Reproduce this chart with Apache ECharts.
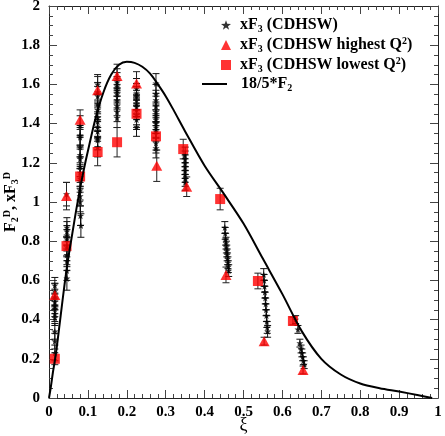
<!DOCTYPE html>
<html>
<head>
<meta charset="utf-8">
<script src="https://cdn.jsdelivr.net/npm/echarts@6/dist/echarts.min.js"></script>
<style>
  html, body { margin: 0; padding: 0; background: #fff; }
  #chart { width: 445px; height: 436px; }
</style>
</head>
<body>
<div id="chart"></div>
<script>
// [xi, value, error]
const cdhswStars = [
  [0.015, 0.575, 0.04], [0.015, 0.545, 0.04], [0.015, 0.515, 0.04], [0.015, 0.49, 0.04],
  [0.015, 0.47, 0.04], [0.015, 0.455, 0.04], [0.015, 0.43, 0.04], [0.015, 0.41, 0.04],
  [0.015, 0.34, 0.04], [0.015, 0.29, 0.04], [0.015, 0.23, 0.04],
  [0.045, 1.04, 0.06], [0.046, 0.87, 0.05], [0.046, 0.85, 0.05], [0.046, 0.83, 0.05],
  [0.046, 0.81, 0.05], [0.046, 0.77, 0.05], [0.046, 0.73, 0.05], [0.046, 0.70, 0.05],
  [0.046, 0.65, 0.05], [0.046, 0.61, 0.06],
  [0.08, 1.39, 0.05], [0.08, 1.34, 0.05], [0.08, 1.33, 0.05], [0.08, 1.28, 0.05],
  [0.08, 1.24, 0.05], [0.08, 1.22, 0.05], [0.08, 1.18, 0.05], [0.08, 1.15, 0.05],
  [0.08, 1.12, 0.05], [0.08, 1.06, 0.05], [0.08, 1.03, 0.05], [0.08, 1.0, 0.05],
  [0.081, 0.93, 0.05], [0.082, 0.88, 0.06],
  [0.125, 1.60, 0.05], [0.125, 1.56, 0.05], [0.125, 1.54, 0.05], [0.125, 1.50, 0.05],
  [0.125, 1.47, 0.05], [0.125, 1.43, 0.05], [0.125, 1.41, 0.05], [0.125, 1.385, 0.05],
  [0.125, 1.36, 0.05], [0.125, 1.33, 0.05], [0.125, 1.316, 0.05], [0.125, 1.28, 0.05],
  [0.175, 1.63, 0.05], [0.175, 1.61, 0.05], [0.175, 1.59, 0.05], [0.175, 1.57, 0.05],
  [0.175, 1.55, 0.05], [0.175, 1.52, 0.05], [0.175, 1.49, 0.05], [0.175, 1.46, 0.05],
  [0.175, 1.43, 0.05],
  [0.225, 1.58, 0.05], [0.225, 1.555, 0.05], [0.225, 1.54, 0.05], [0.225, 1.52, 0.05],
  [0.225, 1.50, 0.05], [0.225, 1.486, 0.05], [0.225, 1.47, 0.05], [0.225, 1.444, 0.05],
  [0.225, 1.42, 0.05], [0.225, 1.385, 0.05],
  [0.275, 1.605, 0.05], [0.275, 1.55, 0.05], [0.275, 1.52, 0.05], [0.275, 1.49, 0.05],
  [0.275, 1.46, 0.05], [0.275, 1.44, 0.05], [0.275, 1.42, 0.05], [0.275, 1.40, 0.05],
  [0.275, 1.38, 0.05], [0.275, 1.36, 0.05], [0.275, 1.30, 0.05], [0.275, 1.275, 0.05],
  [0.35, 1.24, 0.04], [0.35, 1.22, 0.04], [0.35, 1.20, 0.04], [0.35, 1.18, 0.04],
  [0.35, 1.16, 0.04], [0.35, 1.14, 0.04], [0.35, 1.12, 0.04], [0.35, 1.10, 0.04],
  [0.452, 0.87, 0.03], [0.453, 0.84, 0.03], [0.454, 0.81, 0.03], [0.455, 0.79, 0.03],
  [0.456, 0.77, 0.03], [0.457, 0.75, 0.03], [0.458, 0.73, 0.03], [0.459, 0.71, 0.03],
  [0.460, 0.69, 0.03], [0.461, 0.67, 0.03], [0.462, 0.65, 0.03],
  [0.552, 0.63, 0.03], [0.553, 0.60, 0.03], [0.554, 0.57, 0.03], [0.555, 0.54, 0.03],
  [0.556, 0.51, 0.03], [0.557, 0.48, 0.03], [0.558, 0.45, 0.03], [0.559, 0.42, 0.03],
  [0.560, 0.39, 0.03], [0.561, 0.36, 0.03], [0.562, 0.34, 0.03],
  [0.634, 0.40, 0.02], [0.640, 0.35, 0.02], [0.645, 0.28, 0.02], [0.648, 0.25, 0.02],
  [0.650, 0.23, 0.02], [0.652, 0.21, 0.02], [0.654, 0.19, 0.02], [0.656, 0.17, 0.02]
];
const highestQ2 = [
  [0.015, 0.525, 0.06], [0.045, 1.03, 0.07], [0.08, 1.42, 0.05], [0.125, 1.57, 0.07],
  [0.175, 1.643, 0.06], [0.225, 1.605, 0.06], [0.277, 1.185, 0.08], [0.354, 1.078, 0.05],
  [0.455, 0.628, 0.04], [0.553, 0.29, 0.02], [0.653, 0.143, 0.02]
];
const lowestQ2 = [
  [0.015, 0.20, 0.03], [0.045, 0.775, 0.05], [0.08, 1.13, 0.05], [0.125, 1.255, 0.07],
  [0.175, 1.305, 0.075], [0.225, 1.45, 0.07], [0.275, 1.335, 0.07], [0.345, 1.27, 0.05],
  [0.44, 1.015, 0.055], [0.537, 0.597, 0.04], [0.627, 0.393, 0.02]
];
const f2Xi = [0, 0.005, 0.01, 0.015, 0.02, 0.03, 0.04, 0.05, 0.06, 0.07, 0.08, 0.09, 0.1,
  0.12, 0.14, 0.16, 0.18, 0.2, 0.22, 0.24, 0.26, 0.28, 0.3, 0.32, 0.35, 0.4, 0.45, 0.5,
  0.55, 0.6, 0.65, 0.7, 0.75, 0.8, 0.85, 0.9, 0.95, 0.985];
const f2Val = [0, 0.06, 0.13, 0.19, 0.26, 0.42, 0.58, 0.72, 0.84, 0.96, 1.07, 1.17, 1.26,
  1.43, 1.56, 1.65, 1.70, 1.715, 1.71, 1.69, 1.655, 1.60, 1.54, 1.47, 1.36, 1.185, 1.04, 0.89,
  0.71, 0.53, 0.34, 0.20, 0.12, 0.074, 0.05, 0.033, 0.014, 0];
const xTicks = ['0', '0.1', '0.2', '0.3', '0.4', '0.5', '0.6', '0.7', '0.8', '0.9', '1'];
const yTicks = ['0', '0.2', '0.4', '0.6', '0.8', '1', '1.2', '1.4', '1.6', '1.8', '2'];

const names = ['xF3 (CDHSW)', 'xF3 (CDHSW highest Q2)', 'xF3 (CDHSW lowest Q2)', '18/5*F2'];
const richNames = {
  'xF3 (CDHSW)': 'xF{sub|3} (CDHSW)',
  'xF3 (CDHSW highest Q2)': 'xF{sub|3} (CDHSW highest Q{sup|2})',
  'xF3 (CDHSW lowest Q2)': 'xF{sub|3} (CDHSW lowest Q{sup|2})',
  '18/5*F2': '18/5*F{sub|2}'
};

const serif = 'Liberation Serif';
const rich = {
  sub: { fontSize: 10, lineHeight: 8, verticalAlign: 'bottom', fontFamily: serif, fontWeight: 'bold', color: '#000' },
  sup: { fontSize: 10, lineHeight: 8, verticalAlign: 'top', fontFamily: serif, fontWeight: 'bold', color: '#000' }
};
const starPath = 'path://M0,-10L2.35,-3.24L9.51,-3.09L3.8,1.24L5.88,8.09L0,4L-5.88,8.09L-3.8,1.24L-9.51,-3.09L-2.35,-3.24Z';

function errorBars(data, color) {
  return {
    type: 'custom',
    data: data,
    encode: { x: 0, y: 1 },
    silent: true,
    z: 1,
    renderItem: function (params, api) {
      const x = api.value(0), y = api.value(1), e = api.value(2);
      const top = api.coord([x, y + e]);
      const bot = api.coord([x, y - e]);
      const w = 3.5;
      const st = { stroke: color, lineWidth: 1 };
      return {
        type: 'group',
        children: [
          { type: 'line', shape: { x1: top[0], y1: top[1], x2: bot[0], y2: bot[1] }, style: st },
          { type: 'line', shape: { x1: top[0] - w, y1: top[1], x2: top[0] + w, y2: top[1] }, style: st },
          { type: 'line', shape: { x1: bot[0] - w, y1: bot[1], x2: bot[0] + w, y2: bot[1] }, style: st }
        ]
      };
    }
  };
}

const tickLabel = { fontFamily: serif, fontWeight: 'bold', fontSize: 15, color: '#000' };
const axisBase = {
  axisLine: { onZero: false, lineStyle: { color: '#222', width: 1 } },
  axisTick: { inside: true, length: 8, lineStyle: { color: '#444' } },
  minorTick: { show: true, length: 4, lineStyle: { color: '#444' } },
  splitLine: { show: false }
};
const legendText = { fontFamily: serif, fontWeight: 'bold', fontSize: 16, lineHeight: 18, color: '#000', rich: rich };

const chart = echarts.init(document.getElementById('chart'));
chart.setOption({
  animation: false,
  backgroundColor: '#fff',
  grid: { left: 49, right: 7, top: 6, bottom: 38, containLabel: false, outerBoundsMode: 'none' },
  legend: [{
    data: names.slice(0, 3),
    orient: 'vertical',
    left: 216,
    top: 11,
    itemWidth: 10,
    itemHeight: 10,
    itemGap: 2,
    formatter: n => richNames[n],
    textStyle: Object.assign({}, legendText, { padding: [0, 0, 0, 4] })
  }, {
    data: [{ name: names[3], icon: 'rect' }],
    left: 197,
    top: 70,
    itemWidth: 25,
    itemHeight: 2,
    itemStyle: { color: '#000' },
    formatter: n => richNames[n],
    textStyle: Object.assign({}, legendText, { padding: [0, 0, 0, 9] })
  }],
  xAxis: [Object.assign({}, axisBase, {
    type: 'value', min: 0, max: 1, interval: 0.1,
    minorTick: Object.assign({}, axisBase.minorTick, { splitNumber: 5 }),
    axisLabel: Object.assign({}, tickLabel, { margin: 7, formatter: v => xTicks[Math.round(v * 10)] }),
    name: 'ξ', nameLocation: 'middle', nameGap: 18, nameMoveOverlap: false,
    nameTextStyle: { fontFamily: serif, fontSize: 18, color: '#000' }
  }), Object.assign({}, axisBase, {
    type: 'value', position: 'top', min: 0, max: 1, interval: 0.1,
    minorTick: Object.assign({}, axisBase.minorTick, { splitNumber: 5 }),
    axisLabel: { show: false }
  })],
  yAxis: [Object.assign({}, axisBase, {
    type: 'value', min: 0, max: 2, interval: 0.2,
    minorTick: Object.assign({}, axisBase.minorTick, { splitNumber: 4 }),
    axisLabel: Object.assign({}, tickLabel, { margin: 9, formatter: v => yTicks[Math.round(v * 5)] }),
    name: 'F{sub|2}{sup|D}, xF{sub|3}{sup|D}', nameLocation: 'middle', nameGap: 29, nameMoveOverlap: false,
    nameTextStyle: { fontFamily: serif, fontWeight: 'bold', fontSize: 16, lineHeight: 18, color: '#000', rich: rich }
  }), Object.assign({}, axisBase, {
    type: 'value', position: 'right', min: 0, max: 2, interval: 0.2,
    minorTick: Object.assign({}, axisBase.minorTick, { splitNumber: 4 }),
    axisLabel: { show: false }
  })],
  series: [
    errorBars(cdhswStars, '#111'),
    errorBars(highestQ2, '#222'),
    errorBars(lowestQ2, '#222'),
    {
      name: names[0], type: 'scatter', data: cdhswStars, symbol: starPath, symbolSize: 7,
      itemStyle: { color: '#000' }, z: 2
    },
    {
      name: names[1], type: 'scatter', data: highestQ2, symbol: 'triangle', symbolSize: [11, 10],
      itemStyle: { color: '#f00' }, z: 3
    },
    {
      name: names[2], type: 'scatter', data: lowestQ2, symbol: 'rect', symbolSize: 10,
      itemStyle: { color: '#f00' }, z: 3
    },
    {
      name: names[3], type: 'line', data: f2Xi.map((x, i) => [x, f2Val[i]]),
      symbol: 'none', smooth: 0.3, itemStyle: { color: '#000' },
      lineStyle: { color: '#000', width: 2 }, z: 4
    }
  ]
});
</script>
</body>
</html>
